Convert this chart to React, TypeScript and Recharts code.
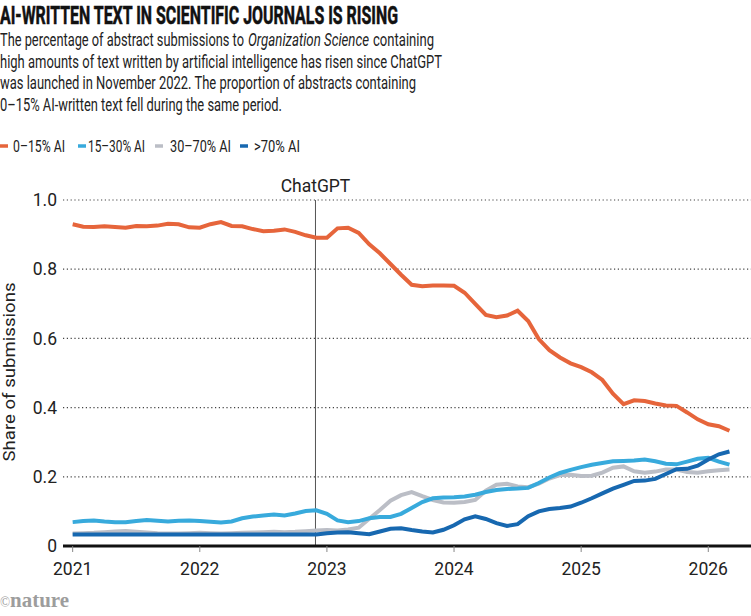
import { LineChart, Line, XAxis, YAxis, CartesianGrid, ReferenceLine, Legend } from 'recharts';

const NARROW = '"Liberation Sans Narrow", Roboto, sans-serif';
const SANS = 'Roboto, "Noto Sans", sans-serif';

// monthly points, Jan 2021 .. Mar 2026
const startYear = 2021;
const months = Array.from({ length: 63 }, (_, i) => startYear + i / 12);

const yearTicks = [2021, 2022, 2023, 2024, 2025, 2026];
const shareTicks = [0, 0.2, 0.4, 0.6, 0.8, 1.0];
const chatGptLaunch = 2022.91;

const ai0to15 = [
  0.930, 0.923, 0.922, 0.924, 0.922, 0.920, 0.925, 0.924, 0.926, 0.931, 0.930, 0.921,
  0.920, 0.930, 0.936, 0.925, 0.924, 0.916, 0.910, 0.911, 0.915, 0.908, 0.898, 0.891,
  0.891, 0.918, 0.920, 0.905, 0.872, 0.846, 0.815, 0.784, 0.755, 0.751, 0.753, 0.753,
  0.752, 0.732, 0.700, 0.668, 0.661, 0.666, 0.680, 0.650, 0.598, 0.566, 0.545, 0.528,
  0.517, 0.502, 0.480, 0.440, 0.410, 0.421, 0.419, 0.412, 0.406, 0.405, 0.386, 0.366,
  0.352, 0.346, 0.333,
];

const ai15to30 = [
  0.069, 0.072, 0.074, 0.071, 0.069, 0.069, 0.072, 0.075, 0.073, 0.071, 0.073, 0.074,
  0.072, 0.070, 0.068, 0.071, 0.080, 0.085, 0.088, 0.091, 0.088, 0.094, 0.101, 0.103,
  0.093, 0.074, 0.069, 0.072, 0.080, 0.084, 0.084, 0.093, 0.110, 0.127, 0.138, 0.140,
  0.141, 0.143, 0.148, 0.156, 0.162, 0.165, 0.166, 0.168, 0.182, 0.198, 0.211, 0.220,
  0.228, 0.235, 0.240, 0.245, 0.246, 0.247, 0.250, 0.245, 0.238, 0.236, 0.244, 0.252,
  0.255, 0.244, 0.235,
];

const ai30to70 = [
  0.036, 0.037, 0.038, 0.040, 0.042, 0.043, 0.041, 0.039, 0.037, 0.036, 0.036, 0.037,
  0.038, 0.037, 0.036, 0.037, 0.038, 0.039, 0.040, 0.041, 0.040, 0.041, 0.043, 0.045,
  0.046, 0.045, 0.048, 0.053, 0.079, 0.104, 0.131, 0.147, 0.156, 0.144, 0.133, 0.126,
  0.125, 0.127, 0.133, 0.160, 0.177, 0.180, 0.172, 0.170, 0.180, 0.195, 0.205, 0.206,
  0.202, 0.203, 0.212, 0.226, 0.230, 0.216, 0.212, 0.215, 0.221, 0.221, 0.214, 0.212,
  0.216, 0.219, 0.221,
];

const ai70plus = [
  0.033, 0.033, 0.033, 0.033, 0.033, 0.033, 0.033, 0.033, 0.033, 0.033, 0.033, 0.033,
  0.033, 0.033, 0.033, 0.033, 0.033, 0.033, 0.033, 0.033, 0.033, 0.033, 0.033, 0.033,
  0.037, 0.039, 0.040, 0.037, 0.034, 0.042, 0.050, 0.051, 0.046, 0.042, 0.039, 0.047,
  0.060, 0.077, 0.086, 0.078, 0.066, 0.058, 0.063, 0.086, 0.100, 0.107, 0.110, 0.114,
  0.125, 0.138, 0.152, 0.166, 0.177, 0.188, 0.189, 0.194, 0.208, 0.222, 0.223, 0.232,
  0.250, 0.265, 0.273,
];

const data = months.map((t, i) => ({
  t,
  low: ai0to15[i],
  mid: ai15to30[i],
  high: ai30to70[i],
  top: ai70plus[i],
}));

// drawing order: gray first, orange last
const series = [
  { key: 'high', name: '30–70% AI', color: '#BBBEC6' },
  { key: 'mid', name: '15–30% AI', color: '#38AADC' },
  { key: 'top', name: '>70% AI', color: '#1768B0' },
  { key: 'low', name: '0–15% AI', color: '#E6653B' },
];

const legendOrder = ['low', 'mid', 'high', 'top'];
const legendDashX = [0, 78, 155, 240];
const legendTextX = [13, 88, 170, 254];
const legendTextW = [52, 57, 61, 46];

function renderLegend() {
  return (
    <svg width={751} height={26} style={{ display: 'block' }}>
      {legendOrder.map((key, i) => {
        const s = series.find((d) => d.key === key)!;
        return (
          <g key={key}>
            <line x1={legendDashX[i]} x2={legendDashX[i] + 8} y1={13} y2={13} stroke={s.color} strokeWidth={3.5} />
            <text
              x={legendTextX[i]}
              y={19}
              fontFamily={NARROW}
              fontSize={17}
              fill="#222"
              textLength={legendTextW[i]}
              lengthAdjust="spacingAndGlyphs"
            >
              {s.name}
            </text>
          </g>
        );
      })}
    </svg>
  );
}

// each piece: text, x, width, line, italic
const subtitle = [
  { s: 'The percentage of abstract submissions to', x: 0, w: 244, line: 0, it: false },
  { s: 'Organization Science', x: 248, w: 121, line: 0, it: true },
  { s: 'containing', x: 373, w: 61, line: 0, it: false },
  { s: 'high amounts of text written by artificial intelligence has risen since ChatGPT', x: 0, w: 442, line: 1, it: false },
  { s: 'was launched in November 2022. The proportion of abstracts containing', x: 0, w: 416, line: 2, it: false },
  { s: '0–15% AI-written text fell during the same period.', x: 0, w: 282, line: 3, it: false },
];

export default function App() {
  return (
    <div style={{ position: 'absolute', left: 0, top: 0, width: 751, height: 616, background: '#fff' }}>
      <LineChart width={751} height={616} data={data} margin={{ top: 200, right: 0, left: 0, bottom: 40 }}>
        <CartesianGrid vertical={false} stroke="#444" strokeDasharray="1.2 2.6" strokeWidth={1.2} />
        <XAxis
          dataKey="t"
          type="number"
          domain={[2020.924, 2026.336]}
          ticks={yearTicks}
          height={30}
          tickSize={6}
          tickMargin={11}
          axisLine={{ stroke: '#111', strokeWidth: 3 }}
          tickLine={{ stroke: '#888' }}
          tick={{ fill: '#222', fontSize: 17.5, fontFamily: SANS }}
        />
        <YAxis
          type="number"
          domain={[0, 1]}
          ticks={shareTicks}
          width={63}
          tickSize={0}
          tickMargin={6}
          axisLine={false}
          tickLine={false}
          tickFormatter={(v: number) => (v === 0 ? '0' : v.toFixed(1))}
          tick={{ fill: '#222', fontSize: 17.5, fontFamily: SANS }}
        />
        <ReferenceLine
          x={chatGptLaunch}
          stroke="#555"
          strokeWidth={1}
          label={{ value: 'ChatGPT', position: 'top', offset: 8, fill: '#222', fontSize: 17.5, fontFamily: SANS }}
        />
        <Legend
          layout="horizontal"
          verticalAlign="middle"
          align="center"
          wrapperStyle={{ top: 133, left: 0, width: 751 }}
          content={renderLegend}
        />
        {series.map((s) => (
          <Line
            key={s.key}
            dataKey={s.key}
            name={s.name}
            type="linear"
            stroke={s.color}
            strokeWidth={4}
            dot={false}
            activeDot={false}
            isAnimationActive={false}
          />
        ))}
      </LineChart>

      <svg width={751} height={616} style={{ position: 'absolute', left: 0, top: 0, pointerEvents: 'none' }}>
        <text
          x={0}
          y={23.5}
          fontFamily={NARROW}
          fontWeight={700}
          fontSize={26.5}
          fill="#111"
          stroke="#111"
          strokeWidth={0.6}
          textLength={398}
          lengthAdjust="spacingAndGlyphs"
        >
          AI-WRITTEN TEXT IN SCIENTIFIC JOURNALS IS RISING
        </text>
        {subtitle.map((p, i) => (
          <text
            key={i}
            x={p.x}
            y={45.7 + p.line * 21.8}
            fontFamily={NARROW}
            fontSize={17.5}
            fontStyle={p.it ? 'italic' : 'normal'}
            fill="#222"
            textLength={p.w}
            lengthAdjust="spacingAndGlyphs"
          >
            {p.s}
          </text>
        ))}
        <text
          transform="translate(15,372) rotate(-90)"
          textAnchor="middle"
          fontFamily={SANS}
          fontSize={17}
          fill="#222"
          textLength={179}
          lengthAdjust="spacingAndGlyphs"
        >
          Share of submissions
        </text>
        <text x={0} y={607} fontFamily='"Liberation Serif", serif' fill="#9d9d9d" textLength={69} lengthAdjust="spacingAndGlyphs">
          <tspan fontSize={14}>©</tspan>
          <tspan fontSize={22} fontWeight={700}>nature</tspan>
        </text>
      </svg>
    </div>
  );
}
